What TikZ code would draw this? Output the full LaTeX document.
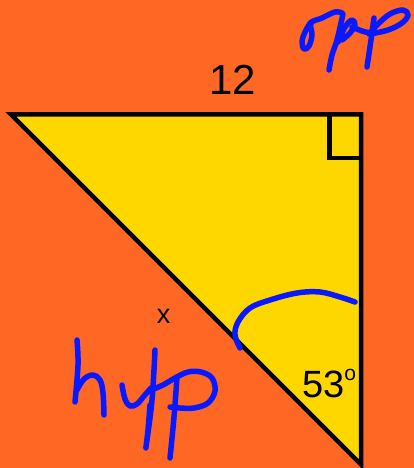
\documentclass[tikz,border=0pt]{standalone}
\usepackage{fontspec}
\setmainfont{Liberation Sans}
\definecolor{bgorange}{RGB}{255,104,36}
\definecolor{triyellow}{RGB}{255,215,0}
\definecolor{inkblue}{RGB}{8,24,255}
\tikzset{
  ink/.style={draw=inkblue, line width=5.5pt, line cap=round, line join=round},
  edge/.style={draw=black, line width=4.5pt, line join=miter},
  lbl/.style={inner sep=0pt, text=black}
}
\begin{document}
\begin{tikzpicture}[x=1pt,y=-1pt]
\fill[bgorange] (0,0) rectangle (414,468);
\useasboundingbox (0,0) rectangle (414,468);
\coordinate (A) at (11,114.5);
\coordinate (B) at (361,114.5);
\coordinate (C) at (361,464.5);
\coordinate (S1) at (329.5,114.5);
\coordinate (S2) at (329.5,158);
\coordinate (S3) at (361,158);
\begin{scope}
\clip (0,0) rectangle (414,468);
\fill[triyellow] (A) -- (B) -- (C) -- cycle;
\draw[edge] (A) -- (B) -- (C) -- cycle;
\draw[edge] (S1) -- (S2) -- (S3);
\end{scope}
\node[lbl, anchor=base] (twelve) at (233,95) {\fontsize{42}{42}\selectfont 12};
\node[lbl, anchor=base] (xlab) at (163.5,323) {\fontsize{27}{27}\selectfont x};
\node[lbl, anchor=base west] (ang) at (302,397) {\fontsize{38}{38}\selectfont 53\raisebox{16.5pt}{\fontsize{21}{21}\selectfont o}};
% angle arc
\draw[ink] plot[smooth, tension=0.6] coordinates {(355,302) (340,297) (320,292) (297,293) (270,300) (250,308) (238,322) (235,335) (240,348)};
% opp
\draw[ink] plot[smooth, tension=0.6] coordinates {(311,22) (306,30) (302,41) (304,49) (309,46) (312,35) (311,23) (322,18) (335,12) (342,13)};
\draw[ink] plot[smooth, tension=0.6] coordinates {(343,14) (337,40) (332,55) (329,70)};
\draw[ink] plot[smooth, tension=0.6] coordinates {(338,42) (345,27) (352,20) (355,25) (350,33) (342,40)};
\draw[ink] plot[smooth, tension=0.6] coordinates {(352,27) (362,31) (370,33)};
\draw[ink] plot[smooth, tension=0.6] coordinates {(374,18) (371,40) (367,67)};
\draw[ink] plot[smooth, tension=0.6] coordinates {(369,34) (378,24) (390,14) (403,10) (408,15) (402,23) (388,30) (370,34)};
% hyp
\draw[ink] plot[smooth, tension=0.6] coordinates {(77,340) (78,365) (75,402)};
\draw[ink] plot[smooth, tension=0.6] coordinates {(77,390) (84,379) (93,375) (100,380) (103,393) (104,415)};
\draw[ink] plot[smooth, tension=0.6] coordinates {(122,385) (125,399) (130,406) (137,404) (144,396) (151,388)};
\draw[ink] plot[smooth, tension=0.6] coordinates {(155,350) (152,400) (146,447) (148,430) (150,405)};
\draw[ink] plot[smooth, tension=0.6] coordinates {(151,390) (163,385) (175,378) (188,372) (201,372) (212,378) (215,391) (208,403) (194,408) (180,408) (170,407)};
\draw[ink] plot[smooth, tension=0.6] coordinates {(177,377) (174,417) (170,458)};
\end{tikzpicture}
\end{document}
